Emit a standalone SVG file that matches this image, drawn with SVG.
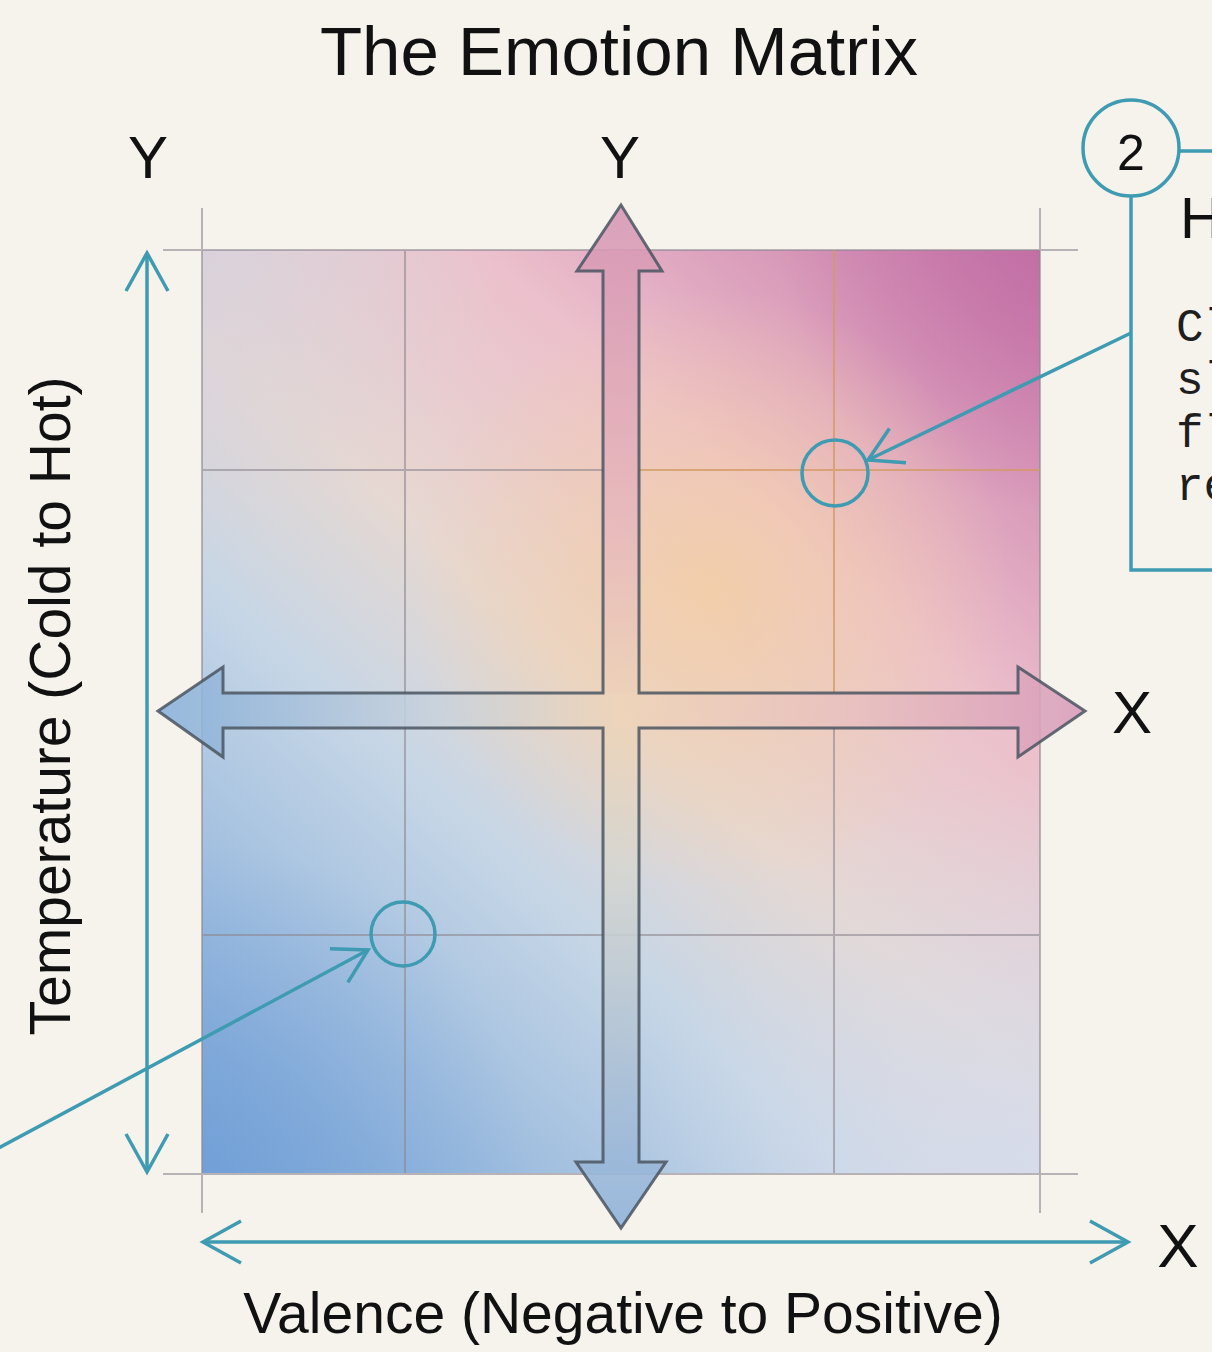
<svg xmlns="http://www.w3.org/2000/svg" width="1212" height="1352" viewBox="0 0 1212 1352">
<style>
.lbl{font-family:"Liberation Sans",Arial,sans-serif;fill:#111;}
.mono{font-family:"Liberation Mono","Courier New",monospace;fill:#1e1e1e;font-size:46px;}
.grid{stroke:#8e8790;stroke-opacity:0.6;stroke-width:2;fill:none;}
.gridw{stroke:#d29a62;stroke-opacity:0.75;stroke-width:2;fill:none;}
.teal{stroke:#3e9bb1;stroke-width:3.5;fill:none;}
</style>
<defs>
<marker id="open" viewBox="0 0 40 44" refX="38" refY="22" markerWidth="40" markerHeight="44" markerUnits="userSpaceOnUse" orient="auto-start-reverse" overflow="visible">
<path d="M0,1 L38,22 L0,43" fill="none" stroke="#3e9bb1" stroke-width="3.5"/>
</marker>
<marker id="openS" viewBox="0 0 36 40" refX="34" refY="20" markerWidth="36" markerHeight="40" markerUnits="userSpaceOnUse" orient="auto" overflow="visible">
<path d="M1,1 L34,20 L1,39" fill="none" stroke="#3e9bb1" stroke-width="3.5"/>
</marker>
<linearGradient id="base" gradientUnits="userSpaceOnUse" x1="202" y1="1173" x2="1040" y2="250">
<stop offset="0" stop-color="#78a5d8"/>
<stop offset="0.35" stop-color="#c6d6e6"/>
<stop offset="0.5" stop-color="#e6d8d2"/>
<stop offset="0.7" stop-color="#ecc0cc"/>
<stop offset="1" stop-color="#c676a8"/>
</linearGradient>
<radialGradient id="peach" gradientUnits="userSpaceOnUse" cx="710" cy="590" r="300">
<stop offset="0" stop-color="#f4cfa4" stop-opacity="0.85"/>
<stop offset="1" stop-color="#f4cfa4" stop-opacity="0"/>
</radialGradient>
<radialGradient id="tl" gradientUnits="userSpaceOnUse" cx="202" cy="250" r="300">
<stop offset="0" stop-color="#d8d2dc" stop-opacity="0.9"/>
<stop offset="1" stop-color="#d8d2dc" stop-opacity="0"/>
</radialGradient>
<radialGradient id="br" gradientUnits="userSpaceOnUse" cx="1040" cy="1173" r="400">
<stop offset="0" stop-color="#d6dcec" stop-opacity="0.95"/>
<stop offset="1" stop-color="#d6dcec" stop-opacity="0"/>
</radialGradient>
<radialGradient id="bl" gradientUnits="userSpaceOnUse" cx="202" cy="1173" r="330">
<stop offset="0" stop-color="#6c9bd6" stop-opacity="0.55"/>
<stop offset="1" stop-color="#6c9bd6" stop-opacity="0"/>
</radialGradient>
<radialGradient id="tr" gradientUnits="userSpaceOnUse" cx="1040" cy="250" r="260">
<stop offset="0" stop-color="#c06aa4" stop-opacity="0.6"/>
<stop offset="1" stop-color="#c06aa4" stop-opacity="0"/>
</radialGradient>
<linearGradient id="vgrad" gradientUnits="userSpaceOnUse" x1="0" y1="205" x2="0" y2="1228">
<stop offset="0" stop-color="#d696b4"/>
<stop offset="0.3" stop-color="#e6b6bc"/>
<stop offset="0.5" stop-color="#edd4b8"/>
<stop offset="0.65" stop-color="#d6d6d0"/>
<stop offset="1" stop-color="#8cb0da"/>
</linearGradient>
<linearGradient id="hgrad" gradientUnits="userSpaceOnUse" x1="158" y1="0" x2="1085" y2="0">
<stop offset="0" stop-color="#88b0da"/>
<stop offset="0.3" stop-color="#c8d2dc"/>
<stop offset="0.5" stop-color="#eed4ba"/>
<stop offset="0.75" stop-color="#e8c0c0"/>
<stop offset="1" stop-color="#d89cba"/>
</linearGradient>
</defs>
<rect width="1212" height="1352" fill="#f6f3ed"/>

<g id="title"><text class="lbl" x="619" y="75" font-size="69" text-anchor="middle">The Emotion Matrix</text></g>

<g id="matrix">
<rect x="202" y="250" width="838" height="923" fill="url(#base)"/>
<rect x="202" y="250" width="838" height="923" fill="url(#tl)"/>
<rect x="202" y="250" width="838" height="923" fill="url(#br)"/>
<rect x="202" y="250" width="838" height="923" fill="url(#bl)"/>
<rect x="202" y="250" width="838" height="923" fill="url(#tr)"/>
<rect x="202" y="250" width="838" height="923" fill="url(#peach)"/>
<path class="grid" d="M202,208 V1213 M1040,208 V1213 M163,250 H1078 M163,1174 H1078 M405,250 V1173 M202,470 H603 M202,935 H1040 M834,728 V1173"/>
<path class="gridw" d="M834,250 V693 M639,470 H1040"/>
</g>

<g id="cross">
<path d="M621,205 L662,271 L639,271 L639,1162 L666,1162 L621,1228 L576,1162 L603,1162 L603,271 L577,271 Z" fill="url(#vgrad)" fill-opacity="0.88"/>
<path d="M158,711 L223,667 L223,693 L1018,693 L1018,667 L1085,711 L1018,757 L1018,728 L223,728 L223,757 Z" fill="url(#hgrad)" fill-opacity="0.88"/>
<path d="M621,205 L662,271 L639,271 L639,693 L1018,693 L1018,667 L1085,711 L1018,757 L1018,728 L639,728 L639,1162 L666,1162 L621,1228 L576,1162 L603,1162 L603,728 L223,728 L223,757 L158,711 L223,667 L223,693 L603,693 L603,271 L577,271 Z" fill="none" stroke="#4a5560" stroke-opacity="0.85" stroke-width="3" stroke-linejoin="miter"/>
</g>

<g id="labels">
<text class="lbl" x="148" y="178" font-size="60" text-anchor="middle">Y</text>
<text class="lbl" x="620" y="178" font-size="60" text-anchor="middle">Y</text>
<text class="lbl" x="1132" y="733" font-size="60" text-anchor="middle">X</text>
<text class="lbl" x="1178" y="1267" font-size="62" text-anchor="middle">X</text>
<text class="lbl" x="623" y="1333" font-size="57" text-anchor="middle">Valence (Negative to Positive)</text>
<text class="lbl" transform="translate(70,706) rotate(-90)" x="0" y="0" font-size="57" text-anchor="middle">Temperature (Cold to Hot)</text>
</g>

<g id="marker-low">
<circle class="teal" cx="403" cy="934" r="32"/>
</g>
<g id="marker-high">
<circle class="teal" cx="835" cy="473" r="33"/>
</g>

<g id="callout-2">
<path class="teal" d="M1131,197 V570 H1215 M1179,151 H1215"/>
<circle class="teal" cx="1131" cy="148" r="48" fill="#f6f3ed"/>
<text class="lbl" x="1131" y="170" font-size="50" text-anchor="middle">2</text>
<text class="lbl" x="1180" y="238" font-size="58">H</text>
<text class="mono" x="1176" y="341">Cl</text>
<text class="mono" x="1176" y="394">sl</text>
<text class="mono" x="1176" y="447">fl</text>
<text class="mono" x="1176" y="500">re</text>
</g>

<g id="connectors">
<line class="teal" x1="147" y1="1172" x2="147" y2="253" marker-start="url(#open)" marker-end="url(#open)"/>
<line class="teal" x1="203" y1="1242" x2="1128" y2="1242" marker-start="url(#open)" marker-end="url(#open)"/>
<line class="teal" x1="-5" y1="1150" x2="368" y2="950" marker-end="url(#openS)"/>
<line class="teal" x1="1131" y1="333" x2="868" y2="460" marker-end="url(#openS)"/>
</g>
</svg>
